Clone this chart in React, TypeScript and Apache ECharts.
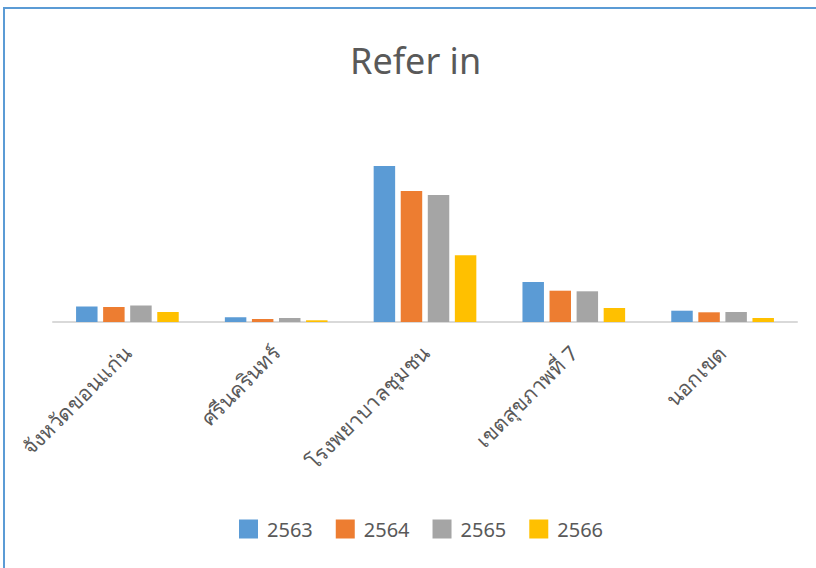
import React, { useEffect, useRef } from "react";
import * as echarts from "echarts";

const categories = ["จังหวัดขอนแก่น", "ศรีนครินทร์", "โรงพยาบาลชุมชน", "เขตสุขภาพที่ 7", "นอกเขต"];
const seriesNames = ["2563", "2564", "2565", "2566"];
const values2563 = [15.5, 4.7, 156, 40, 11.3];
const values2564 = [15, 3, 131, 31.3, 9.7];
const values2565 = [16.5, 4, 127, 30.7, 10];
const values2566 = [10, 1.7, 66.7, 14, 4];
const colors = ["#5b9bd5", "#ed7d31", "#a5a5a5", "#ffc000"];

export default function App() {
  const ref = useRef<HTMLDivElement>(null);
  useEffect(() => {
    if (!ref.current) return;
    const chart = echarts.init(ref.current, undefined, { renderer: "svg" });
    const all = [values2563, values2564, values2565, values2566];
    const font = "'Noto Sans', 'Open Sans', sans-serif";
    chart.setOption({
      animation: false,
      backgroundColor: "#ffffff",
      color: colors,
      title: {
        text: "Refer in",
        left: 345,
        top: 37,
        textStyle: { fontSize: 36, fontWeight: "normal", color: "#595959", fontFamily: font },
      },
      legend: {
        bottom: 24,
        left: 234,
        itemWidth: 19,
        itemHeight: 19,
        itemGap: 23,
        icon: "rect",
        textStyle: { fontSize: 20, color: "#595959", fontFamily: font, padding: [0, 0, 0, 4] },
        data: seriesNames,
      },
      graphic: [
        {
          type: "rect",
          shape: { x: 4, y: 8, width: 1000, height: 1000 },
          style: { fill: "none", stroke: "#5b9bd5", lineWidth: 2 },
          silent: true,
        },
      ],
      grid: { left: 53, right: 19, top: 122, bottom: 246, containLabel: false },
      xAxis: {
        type: "category",
        data: categories,
        axisLine: { lineStyle: { color: "#d9d9d9", width: 2 } },
        axisTick: { show: false },
        axisLabel: {
          rotate: 45,
          interval: 0,
          margin: 27,
          fontSize: 21,
          color: "#595959",
          fontFamily: font,
        },
      },
      yAxis: {
        type: "value",
        min: 0,
        max: 200,
        show: false,
        splitLine: { show: false },
      },
      series: seriesNames.map((name, i) => ({
        name,
        type: "bar",
        data: all[i],
        barGap: "26%",
        barCategoryGap: "31%",
        itemStyle: { color: colors[i] },
      })),
    });
    return () => chart.dispose();
  }, []);
  return (
    <div
      ref={ref}
      style={{ position: "fixed", left: 0, top: 0, width: 816, height: 568 }}
    />
  );
}
